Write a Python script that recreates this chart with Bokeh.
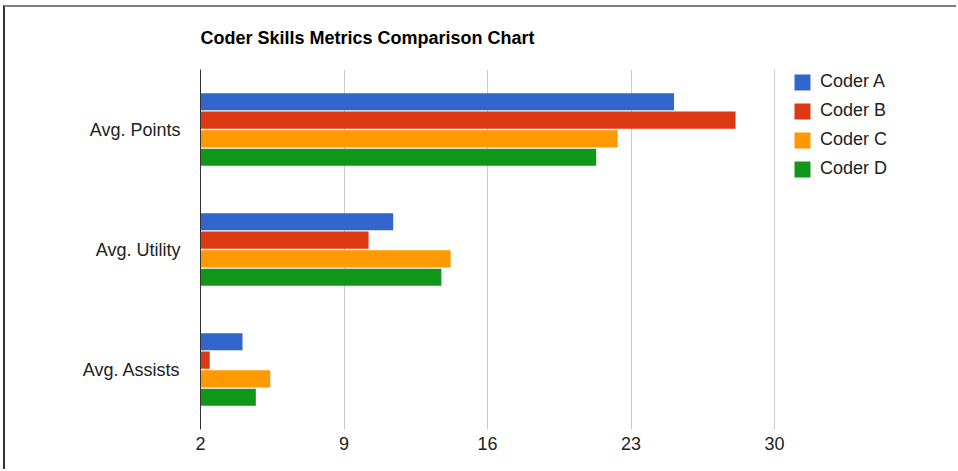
from bokeh.plotting import figure
from bokeh.models import ColumnDataSource, FactorRange, Range1d, FixedTicker, Legend, LegendItem
from bokeh.transform import dodge
from bokeh.embed import file_html
from bokeh.resources import INLINE

# ---- data ----
categories = ["Avg. Points", "Avg. Utility", "Avg. Assists"]
coders = ["Coder A", "Coder B", "Coder C", "Coder D"]
coder_a = [25.1, 11.4, 4.05]
coder_b = [28.1, 10.2, 2.45]
coder_c = [22.35, 14.2, 5.4]
coder_d = [21.3, 13.75, 4.7]
x_ticks = [2, 9, 16, 23, 30]
colors = ["#3366cc", "#dc3912", "#ff9900", "#109618"]

BASE = 2
FONT = "Liberation Sans"

# layout (pixels)
CANVAS_W, CANVAS_H = 953, 464
FRAME_LEFT, FRAME_RIGHT = 195, 953      # canvas coords
AXIS_END_PX = 769                       # where the last tick (30) sits
px_per_unit = (AXIS_END_PX - FRAME_LEFT) / (x_ticks[-1] - x_ticks[0])
x_end = x_ticks[0] + (FRAME_RIGHT - FRAME_LEFT) / px_per_unit

src = ColumnDataSource(dict(cat=categories, a=coder_a, b=coder_b, c=coder_c, d=coder_d))

p = figure(
    width=CANVAS_W, height=CANVAS_H,
    y_range=FactorRange(factors=list(reversed(categories))),
    x_range=Range1d(x_ticks[0], x_end),
    output_backend="svg", toolbar_location=None,
    min_border_left=FRAME_LEFT, min_border_right=CANVAS_W - FRAME_RIGHT,
    min_border_top=62, min_border_bottom=42,
)
p.styles = {"margin-top": "5px", "margin-left": "3px",
            "border-top": "2px solid #808080", "border-left": "2px solid #333333"}
p.outline_line_color = None
p.background_fill_color = "white"
p.border_fill_color = "white"

# title
p.title.text = "Coder Skills Metrics Comparison Chart"
p.title.align = "left"
p.title.vertical_align = "top"
p.title.text_font = FONT
p.title.text_font_size = "18px"
p.title.text_font_style = "bold"
p.title.text_color = "#000000"
p.title.standoff = 40
p.title.offset = 0

offsets = [0.232, 0.078, -0.078, -0.232]
bar_h = 0.142
renderers = []
for key, off, col in zip(["a", "b", "c", "d"], offsets, colors):
    r = p.hbar(y=dodge("cat", off, range=p.y_range), left=BASE, right=key, height=bar_h,
               source=src, fill_color=col, line_color=None)
    renderers.append(r)

# axes
p.xaxis.ticker = FixedTicker(ticks=x_ticks)
p.xaxis.axis_line_color = None
p.xaxis.major_tick_line_color = None
p.xaxis.minor_tick_line_color = None
p.xaxis.major_label_standoff = 1
p.xaxis.major_label_text_font = FONT
p.xaxis.major_label_text_font_size = "18px"
p.xaxis.major_label_text_color = "#222222"

p.yaxis.axis_line_color = "#333333"
p.yaxis.axis_line_width = 1
p.yaxis.major_tick_line_color = None
p.yaxis.minor_tick_line_color = None
p.yaxis.major_label_standoff = 14
p.yaxis.major_label_text_font = FONT
p.yaxis.major_label_text_font_size = "18px"
p.yaxis.major_label_text_color = "#222222"

p.xgrid.ticker = FixedTicker(ticks=x_ticks[1:])
p.xgrid.grid_line_color = "#cccccc"
p.ygrid.grid_line_color = None

# legend inside the (extended) frame, right of the last grid line
legend = Legend(items=[LegendItem(label=c, renderers=[r]) for c, r in zip(coders, renderers)],
                location=(592, 250), orientation="vertical",
                glyph_width=20, glyph_height=20, label_standoff=8, spacing=8,
                padding=0, margin=0, border_line_color=None, background_fill_alpha=0,
                label_text_font=FONT, label_text_font_size="18px", label_text_color="#222222",
                label_height=16)
p.add_layout(legend, "center")

open("out.html", "w").write(file_html(p, INLINE))
